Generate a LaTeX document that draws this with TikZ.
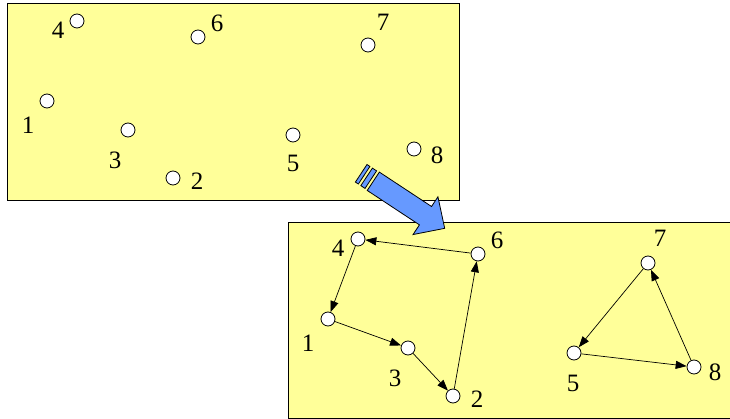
\documentclass[tikz,border=0pt]{standalone}
\usepackage{fontspec}
\setmainfont{Liberation Serif}
\newfontfamily\lblfont{Liberation Serif}
\usetikzlibrary{arrows.meta}
\definecolor{padyellow}{HTML}{FFFF99}
\definecolor{arrowblue}{HTML}{6699FF}
\begin{document}
\begin{tikzpicture}[x=1pt,y=-1pt,
  vtx/.style={circle,draw=black,fill=white,line width=0.8pt,minimum size=14pt,inner sep=0pt},
  lbl/.style={inner sep=0pt,font=\lblfont\fontsize{25pt}{30pt}\selectfont},
  panel/.style={draw=black,fill=padyellow,line width=1pt},
  link/.style={line width=0.7pt,-{Triangle[length=11pt,width=8pt]}},
  bigarrow/.style={draw=black,fill=arrowblue,line width=0.8pt,line join=miter}]
\useasboundingbox (0,0) rectangle (730,419);
% panels
\path[panel] (7.5,4) rectangle (459,200.5);
\path[panel] (288.5,222.5) rectangle (740,418);
% top points
\node[vtx] (t4) at (77,21) {};
\node[vtx] (t6) at (198,37) {};
\node[vtx] (t7) at (368,45) {};
\node[vtx] (t1) at (47,101) {};
\node[vtx] (t3) at (128,130) {};
\node[vtx] (t5) at (293,135) {};
\node[vtx] (t8) at (414,149) {};
\node[vtx] (t2) at (173,178) {};
\node[lbl] (lt4) at (58,30) {4};
\node[lbl] (lt6) at (217,23) {6};
\node[lbl] (lt7) at (383,22) {7};
\node[lbl] (lt1) at (28,125) {1};
\node[lbl] (lt3) at (115,160) {3};
\node[lbl] (lt5) at (293,163) {5};
\node[lbl] (lt8) at (437,155) {8};
\node[lbl] (lt2) at (197,181) {2};
% big striped arrow
\begin{scope}[shift={(361.2,173.3)},rotate=-33.4]
  \path[bigarrow] (0,-10.5) rectangle (3.5,10.5);
  \path[bigarrow] (6.5,-10.5) rectangle (11.5,10.5);
  \path[bigarrow] (14.5,-11) -- (77,-11) -- (77,-22.6) -- (100,0) -- (77,22.6) -- (77,11) -- (14.5,11) -- cycle;
\end{scope}
% bottom points
\node[vtx] (b4) at (358,239) {};
\node[vtx] (b6) at (478,254) {};
\node[vtx] (b1) at (328,319) {};
\node[vtx] (b3) at (408,348) {};
\node[vtx] (b2) at (453,396) {};
\node[vtx] (b7) at (648,263) {};
\node[vtx] (b5) at (574,353) {};
\node[vtx] (b8) at (694,367) {};
\node[lbl] (lb4) at (338,248) {4};
\node[lbl] (lb6) at (497,240) {6};
\node[lbl] (lb1) at (308,343) {1};
\node[lbl] (lb3) at (395,378) {3};
\node[lbl] (lb2) at (477,399) {2};
\node[lbl] (lb7) at (660,238) {7};
\node[lbl] (lb5) at (573,383) {5};
\node[lbl] (lb8) at (715,372) {8};
% links
\draw[link] (b6) -- (b4);
\draw[link] (b4) -- (b1);
\draw[link] (b1) -- (b3);
\draw[link] (b3) -- (b2);
\draw[link] (b2) -- (b6);
\draw[link] (b7) -- (b5);
\draw[link] (b5) -- (b8);
\draw[link] (b8) -- (b7);
\end{tikzpicture}
\end{document}
